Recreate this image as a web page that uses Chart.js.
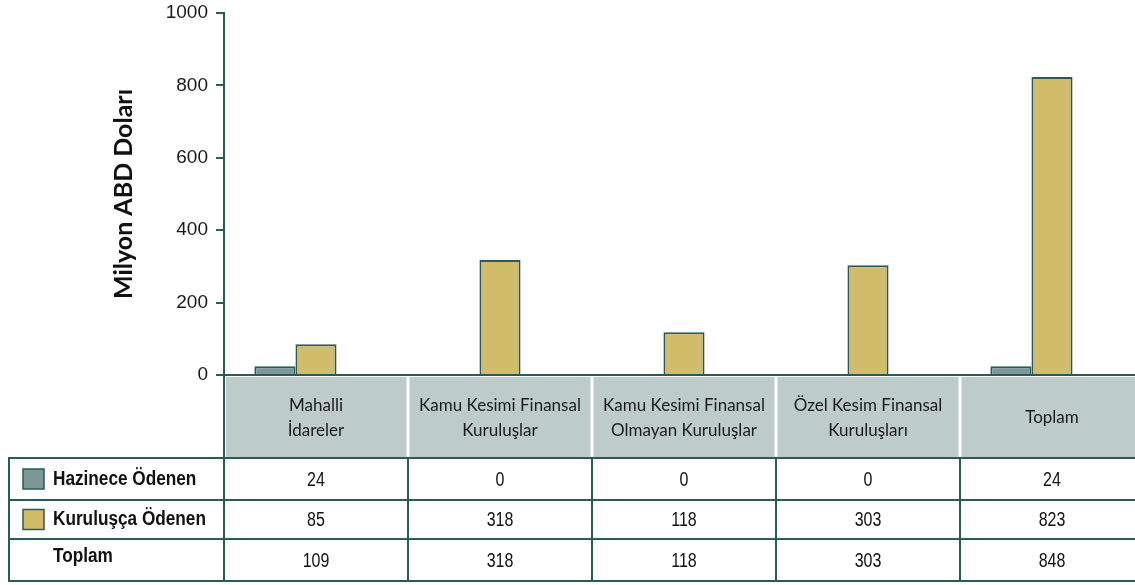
<!DOCTYPE html>
<html>
<head>
<meta charset="utf-8">
<script src="https://cdn.jsdelivr.net/npm/chart.js@4"></script>
<style>
  html, body { margin: 0; padding: 0; background: #fff; overflow: hidden; }
  canvas { display: block; }
</style>
</head>
<body>
<canvas id="chart" width="1144" height="585"></canvas>
<script>
// kategori basliklari (tablo ust satiri)
var categories = [
  ['Mahalli', 'İdareler'],
  ['Kamu Kesimi Finansal', 'Kuruluşlar'],
  ['Kamu Kesimi Finansal', 'Olmayan Kuruluşlar'],
  ['Özel Kesim Finansal', 'Kuruluşları'],
  ['Toplam']
];
var hazinece = [24, 0, 0, 0, 24];
var kurulusca = [85, 318, 118, 303, 823];
var toplam = [109, 318, 118, 303, 848];
var yTicks = [0, 200, 400, 600, 800, 1000];

var teal = '#7b9896';
var gold = '#d1bd69';
var line = '#2b5a58';
var headFill = '#bdcccb';

var rows = [
  { label: 'Hazinece Ödenen', values: hazinece, swatch: teal },
  { label: 'Kuruluşça Ödenen', values: kurulusca, swatch: gold },
  { label: 'Toplam', values: toplam, swatch: null }
];

// dar yazi: Liberation Sans'i yatayda sikistir
function narrowText(ctx, text, x, y, sx) {
  ctx.save();
  ctx.translate(x, y);
  ctx.scale(sx, 1);
  ctx.fillText(text, 0, 0);
  ctx.restore();
}

var tablePlugin = {
  id: 'dataTable',
  afterDraw: function(chart) {
    var ctx = chart.ctx;
    var x = chart.scales.x;
    var area = chart.chartArea;
    var n = categories.length;
    var colW = (area.right - area.left) / n;
    var headTop = area.bottom + 2, headBot = 457;
    var rowLines = [458, 500, 539, 581];
    var tableLeft = 9;
    ctx.save();

    // header cells
    for (var i = 0; i < n; i++) {
      var cx = x.getPixelForTick(i);
      var l = cx - colW / 2 + (i === 0 ? 2 : 1.5);
      var r = cx + colW / 2 - 1.5;
      ctx.fillStyle = headFill;
      ctx.fillRect(l, headTop, r - l, headBot - headTop);
      ctx.fillStyle = '#1a1a1a';
      ctx.font = '17px Lato, "Open Sans", sans-serif';
      ctx.textAlign = 'center';
      ctx.textBaseline = 'middle';
      var lines = categories[i];
      var mid = (headTop + headBot) / 2 + 1;
      for (var k = 0; k < lines.length; k++) {
        ctx.fillText(lines[k], cx, mid + (k - (lines.length - 1) / 2) * 25);
      }
    }

    // grid lines of the table
    ctx.strokeStyle = line;
    ctx.lineWidth = 2;
    ctx.beginPath();
    for (var j = 0; j < rowLines.length; j++) {
      ctx.moveTo(tableLeft, rowLines[j]);
      ctx.lineTo(chart.width, rowLines[j]);
    }
    ctx.moveTo(tableLeft, rowLines[0] - 1);
    ctx.lineTo(tableLeft, rowLines[3] + 1);
    ctx.moveTo(area.left, area.bottom);
    ctx.lineTo(area.left, rowLines[3] + 1);
    for (var c = 1; c < n; c++) {
      var bx = x.getPixelForTick(c) - colW / 2;
      ctx.moveTo(bx, rowLines[0]);
      ctx.lineTo(bx, rowLines[3] + 1);
    }
    ctx.stroke();

    // row labels, swatches and values
    for (var ri = 0; ri < rows.length; ri++) {
      var top = rowLines[ri], bot = rowLines[ri + 1];
      var my = (top + bot) / 2;
      if (rows[ri].swatch) {
        ctx.fillStyle = rows[ri].swatch;
        ctx.fillRect(23, my - 10, 21, 20);
        ctx.lineWidth = 1.5;
        ctx.strokeRect(23, my - 10, 21, 20);
      }
      ctx.fillStyle = '#111';
      ctx.font = 'bold 20px "Liberation Sans", Arial, sans-serif';
      ctx.textAlign = 'left';
      ctx.textBaseline = 'middle';
      narrowText(ctx, rows[ri].label, 53, my - (ri === 2 ? 4 : 0), 0.86);
      ctx.font = '20px "Liberation Sans", Arial, sans-serif';
      ctx.textAlign = 'center';
      for (var vi = 0; vi < n; vi++) {
        narrowText(ctx, String(rows[ri].values[vi]), x.getPixelForTick(vi), my + 1, 0.8);
      }
    }
    ctx.restore();
  }
};

new Chart(document.getElementById('chart').getContext('2d'), {
  type: 'bar',
  data: {
    labels: categories,
    datasets: [
      { label: 'Hazinece Ödenen', data: hazinece, backgroundColor: teal, borderColor: line, borderWidth: 2 },
      { label: 'Kuruluşça Ödenen', data: kurulusca, backgroundColor: gold, borderColor: line, borderWidth: 2 },
      { label: 'Toplam', data: toplam, backgroundColor: 'rgba(0,0,0,0)', borderColor: 'rgba(0,0,0,0)', borderWidth: 0 }
    ]
  },
  options: {
    responsive: false,
    animation: false,
    layout: { padding: { left: 100, top: 13, bottom: 210, right: 0 } },
    datasets: { bar: { categoryPercentage: 0.67, barPercentage: 1 } },
    plugins: { legend: { display: false } },
    scales: {
      x: { display: false },
      y: {
        min: 0,
        max: 1000,
        afterBuildTicks: function(axis) {
          axis.ticks = yTicks.map(function(v) { return { value: v }; });
        },
        afterFit: function(axis) {
          axis.width = 124;
          axis.paddingTop = 0;
          axis.paddingBottom = 0;
        },
        border: { display: true, color: line, width: 2 },
        grid: {
          color: function(c) { return c.tick && c.tick.value === 0 ? line : 'rgba(0,0,0,0)'; },
          lineWidth: 2,
          tickColor: line,
          tickLength: 8,
          drawOnChartArea: true
        },
        ticks: {
          color: '#1a1a1a',
          padding: 8,
          callback: function(v) { return String(v); },
          font: { family: '"Liberation Sans", Arial, sans-serif', size: 19 }
        },
        title: {
          display: true,
          text: 'Milyon ABD Doları',
          color: '#111',
          padding: { top: 9, bottom: 0 },
          font: { family: 'Lato, "Open Sans", sans-serif', size: 25, weight: 'bold' }
        }
      }
    }
  },
  plugins: [tablePlugin]
});
</script>
</body>
</html>
